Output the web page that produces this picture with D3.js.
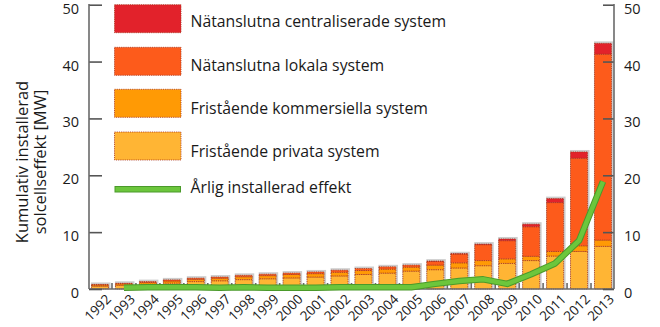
<!DOCTYPE html>
<html>
<head>
<meta charset="utf-8">
<script src="https://cdn.jsdelivr.net/npm/d3@7/dist/d3.min.js"></script>
<style>
  html, body { margin: 0; padding: 0; background: #fff; }
  svg { display: block; }
  text { font-family: "Open Sans", Lato, sans-serif; fill: #1a1a1a; }
</style>
</head>
<body>
<svg id="chart" width="660" height="327"></svg>
<script>
// Installed solar cell capacity in Sweden, cumulative per system type (MW)
const years = ["1992","1993","1994","1995","1996","1997","1998","1999","2000","2001","2002",
               "2003","2004","2005","2006","2007","2008","2009","2010","2011","2012","2013"];
const privata        = [0.5, 0.65, 0.85, 1.05, 1.3, 1.45, 1.65, 1.8, 1.95, 2.1, 2.3, 2.55, 2.8, 3.15, 3.4, 3.7, 4.1, 4.5, 5.0, 5.8, 6.6, 7.5];
const kommersiella   = [0.2, 0.25, 0.3, 0.35, 0.4, 0.45, 0.5, 0.55, 0.6, 0.6, 0.65, 0.7, 0.7, 0.7, 0.8, 0.9, 0.9, 0.8, 0.75, 0.8, 1.0, 1.1];
const lokala         = [0.1, 0.1, 0.15, 0.2, 0.2, 0.2, 0.25, 0.25, 0.25, 0.3, 0.35, 0.35, 0.4, 0.35, 0.65, 1.55, 2.8, 3.2, 5.2, 8.6, 15.4, 32.7];
const centraliserade = [0, 0, 0, 0, 0, 0, 0, 0, 0, 0, 0, 0, 0, 0, 0.05, 0.05, 0.1, 0.3, 0.45, 0.7, 1.1, 1.9];

// Capacity installed each year (MW), from 1993 onwards
const annualYears = ["1993","1994","1995","1996","1997","1998","1999","2000","2001","2002","2003",
                     "2004","2005","2006","2007","2008","2009","2010","2011","2012","2013"];
const annual = [0.2, 0.3, 0.3, 0.3, 0.2, 0.3, 0.2, 0.2, 0.2, 0.3, 0.3, 0.3, 0.3, 0.9, 1.4, 1.7, 0.9, 2.6, 4.5, 8.5, 18.9];

const yTicks = [0, 10, 20, 30, 40, 50];

const seriesKeys = ["privata", "kommersiella", "lokala", "centraliserade"];
const seriesNames = {
  centraliserade: "Nätanslutna centraliserade system",
  lokala: "Nätanslutna lokala system",
  kommersiella: "Fristående kommersiella system",
  privata: "Fristående privata system"
};
const colors = {
  centraliserade: "#e2222b",
  lokala: "#fd5b1b",
  kommersiella: "#ff9a05",
  privata: "#ffb534"
};
const lineName = "Årlig installerad effekt";

const rows = years.map((yr, i) => ({
  year: yr,
  privata: privata[i],
  kommersiella: kommersiella[i],
  lokala: lokala[i],
  centraliserade: centraliserade[i]
}));

const svg = d3.select("#chart");
const plotLeft = 89, plotRight = 614, plotTop = 4.7, plotBottom = 289;

const x = d3.scaleBand().domain(years).range([plotLeft, plotRight]).paddingInner(0.29).paddingOuter(0.105);
const y = d3.scaleLinear().domain([0, 50]).range([plotBottom, plotTop]);

const stacked = d3.stack().keys(seriesKeys)(rows);
const totals = rows.map(r => seriesKeys.reduce((s, k) => s + r[k], 0));

// grey shadow behind each bar
svg.append("g").selectAll("rect").data(years).join("rect")
  .attr("x", d => x(d) - 0.5)
  .attr("y", (d, i) => y(totals[i]) - 2)
  .attr("width", x.bandwidth() + 2.5)
  .attr("height", (d, i) => plotBottom - y(totals[i]) + 2)
  .attr("fill", "#cdcdcd");

// stacked bar segments
svg.append("g").selectAll("g").data(stacked).join("g")
  .attr("fill", s => colors[s.key])
  .selectAll("rect").data(s => s.filter(d => d[1] - d[0] > 0)).join("rect")
  .attr("x", d => x(d.data.year))
  .attr("y", d => y(d[1]))
  .attr("width", x.bandwidth())
  .attr("height", d => y(d[0]) - y(d[1]))
  .attr("stroke", "#a8331c")
  .attr("stroke-width", 0.8)
  .attr("stroke-dasharray", "1.2,1");

// x axis with short inward ticks at the band borders
const xAxisG = svg.append("g");
const border = d => x(d) + x.bandwidth() + x.step() * x.paddingInner() / 2;
xAxisG.selectAll("line.sep").data(years.slice(0, -1)).join("line")
  .attr("class", "sep")
  .attr("x1", border).attr("x2", border)
  .attr("y1", plotBottom).attr("y2", plotBottom - 6)
  .attr("stroke", "#6a6a6a").attr("stroke-width", 1.6);
xAxisG.append("line")
  .attr("x1", plotLeft).attr("x2", plotRight).attr("y1", plotBottom).attr("y2", plotBottom)
  .attr("stroke", "#6a6a6a").attr("stroke-width", 1.6);
xAxisG.selectAll("text").data(years).join("text")
  .attr("transform", d => `translate(${x(d) + x.bandwidth() / 2 + 12},${plotBottom + 11}) rotate(-45)`)
  .attr("text-anchor", "end")
  .attr("font-size", 13.5)
  .text(d => d);

// left and right value axes, ticks pointing inward
const yAxisL = d3.axisRight(y).tickValues(yTicks).tickSize(13).tickFormat("");
const yAxisR = d3.axisLeft(y).tickValues(yTicks).tickSize(11).tickFormat("");
[[yAxisL, plotLeft], [yAxisR, plotRight]].forEach(([ax, xp]) => {
  const g = svg.append("g").attr("transform", `translate(${xp},0)`).call(ax);
  g.select(".domain").remove();
  g.selectAll("line").attr("stroke", "#555").attr("stroke-width", 1.6);
  g.append("line").attr("x1", 0).attr("x2", 0).attr("y1", plotTop - 0.8).attr("y2", plotBottom)
    .attr("stroke", "#6a6a6a").attr("stroke-width", 1.6);
});
svg.append("g").selectAll("text").data(yTicks).join("text")
  .attr("x", plotLeft - 10).attr("y", d => y(d) + 9)
  .attr("text-anchor", "end").attr("font-size", 14.5)
  .text(d => d);
svg.append("g").selectAll("text").data(yTicks).join("text")
  .attr("x", plotRight + 10).attr("y", d => y(d) + 9)
  .attr("text-anchor", "start").attr("font-size", 14.5)
  .text(d => d);

// annual installations line
const line = d3.line()
  .x(d => x(d.year) + x.bandwidth() / 2)
  .y(d => y(d.value));
const lineData = annualYears.map((yr, i) => ({ year: yr, value: annual[i] }));
svg.append("path").datum(lineData).attr("d", line)
  .attr("fill", "none").attr("stroke", "#4a9a2a").attr("stroke-width", 6.5)
  .attr("stroke-linejoin", "round");
svg.append("path").datum(lineData).attr("d", line)
  .attr("fill", "none").attr("stroke", "#6cc63c").attr("stroke-width", 4.5)
  .attr("stroke-linejoin", "round");

// legend
const legendKeys = ["centraliserade", "lokala", "kommersiella", "privata"];
const legend = svg.append("g");
const swTop = [4.7, 47.3, 89.3, 132];
const txtBase = [26.7, 70.5, 113.5, 156.5];
legendKeys.forEach((k, i) => {
  legend.append("rect")
    .attr("x", 114.5).attr("y", swTop[i]).attr("width", 66.5).attr("height", 28)
    .attr("fill", colors[k]).attr("stroke", "#a8331c").attr("stroke-width", 0.8)
    .attr("stroke-dasharray", "1.2,1");
  legend.append("text").attr("x", 190.5).attr("y", txtBase[i])
    .attr("font-size", 15.8).text(seriesNames[k]);
});
legend.append("line").attr("x1", 114.5).attr("x2", 181).attr("y1", 189.3).attr("y2", 189.3)
  .attr("stroke", "#4a9a2a").attr("stroke-width", 6.5);
legend.append("line").attr("x1", 115.5).attr("x2", 180).attr("y1", 189.3).attr("y2", 189.3)
  .attr("stroke", "#6cc63c").attr("stroke-width", 4.5);
legend.append("text").attr("x", 190.5).attr("y", 193.3).attr("font-size", 15.8).text(lineName);

// y axis title
const title = svg.append("text")
  .attr("transform", "translate(0,162) rotate(-90)")
  .attr("text-anchor", "middle").attr("font-size", 16.5);
title.append("tspan").attr("x", 0).attr("y", 28).text("Kumulativ installerad");
title.append("tspan").attr("x", 0).attr("y", 46).text("solcellseffekt [MW]");
</script>
</body>
</html>
